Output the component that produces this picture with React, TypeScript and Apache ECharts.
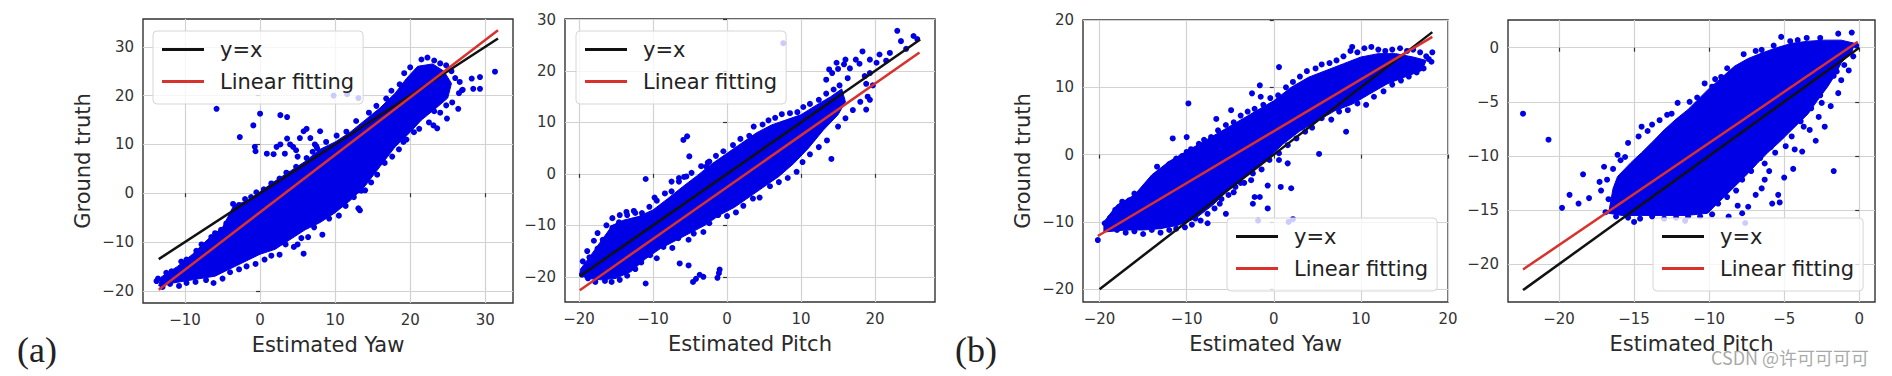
import React, { useEffect, useRef } from 'react';
import * as echarts from 'echarts';

const BLUE = '#0000e6';
const RED = '#d8322c';
const BLACK = '#111111';

// ---------- Panel (a) left: Estimated Yaw ----------
const aYawTicksX = [-10, 0, 10, 20, 30];
const aYawTicksY = [-20, -10, 0, 10, 20, 30];
const aYawIdentity = [[-13.5, -13.5], [31.7, 31.7]];
const aYawFit = [[-13.5, -19.8], [31.7, 33.4]];
const aYawDense = [
  [-13.2, -17.2], [-11, -15], [-9, -12.5], [-7, -9.5], [-5, -7], [-3.5, -2.5], [-1.5, -1.5], [0, 0.3], [2, 2.5], [4, 4.5],
  [6, 6.5], [8, 9], [10, 10.5], [12, 12.5], [14, 15], [16, 17.5], [18, 20.5], [19.5, 23.5], [21, 26], [23, 26.5], [24.5, 25],
  [25.5, 22.5], [25, 19.5], [23.5, 17.5], [21.5, 15], [20, 12.5], [18, 9.5], [16, 5.5], [14, 1.5], [12, -1.5], [10, -4],
  [8, -6], [6, -7.5], [4, -9.5], [2, -11.5], [0, -12.5], [-2, -14], [-4, -15.5], [-6, -17], [-8, -17.5], [-10, -18],
  [-12, -18.5], [-13.5, -19]
];
const aYawPoints = [
  [-13.6, -17.5], [-12.5, -16.3], [-11.8, -16], [-10.5, -14], [-9.8, -13.6], [-8.5, -11.8], [-7.8, -10.5], [-6.5, -9], [-6, -8.2],
  [-5.2, -7.5], [-4.5, -6.2], [-3.6, -2.2], [-2.8, -2.4], [-2, -1.2], [-1.2, -0.8], [-0.5, 0.2], [0.5, 0.8], [1.5, 2], [2.6, 3],
  [3.5, 4.2], [4.8, 5.4], [6.2, 7.2], [7.5, 9.6], [8.8, 10.5], [10.2, 11.8], [11.5, 12.6], [12.8, 14.8], [14.5, 16.5], [15.5, 17.9],
  [16.8, 19.4], [17.5, 21], [18.6, 22.3], [19.2, 24.6], [20, 25.8], [21.5, 27.4], [22.3, 27.8], [23.2, 27.2], [24, 26.6], [24.8, 26.2],
  [25.5, 25], [26, 23.6], [26.6, 22.8], [27, 21.2], [26.5, 20.5],
  [25.6, 18.6], [24.8, 18], [24, 16.5], [23.2, 16.8], [22.5, 14.5], [21.2, 13.2], [20.5, 12.5], [19.5, 11], [18.5, 9], [17.6, 7.5],
  [16.6, 6.2], [15.6, 3.8], [14.8, 2.2], [13.5, 0.5], [12.5, -0.8], [11.4, -2.6], [10.5, -4.6], [9.2, -5.2], [8.3, -8.5], [7.2, -7],
  [6.4, -9], [5.5, -9.2], [4.5, -11], [3.4, -10.5], [2.6, -12.6], [1.5, -12.8], [0.6, -13.6], [-0.6, -14.5], [-1.8, -15], [-2.8, -15.6],
  [-4, -16.2], [-5, -17.5], [-6.2, -18.4], [-7.2, -17.8], [-8.6, -18.2], [-9.8, -18.4], [-10.8, -19], [-12, -18.6], [-13, -19.2], [-13.8, -18],
  [-5.8, 17.3], [0, 16.3], [-2.7, 11.5], [-0.9, 13.9], [0.9, 8.1], [-0.7, 9.5], [-0.6, 8.6], [2.7, 16], [3.6, 15.6], [3.3, 8.1],
  [4.4, 9.5], [5.8, -12.4], [5, -10.5], [13.1, 0.6], [13.1, -3.1], [13.3, -3.5], [14, 0.6], [31.3, 24.9], [28.2, 23.5], [29.3, 23.8],
  [28.4, 21.4], [29.3, 21.4], [26.4, 17.3], [24.9, 15.3], [23.6, 13.3], [23.1, 13.9], [19.1, 10.5], [26.9, 21.1], [9.8, 20], [11.6, 20.3],
  [13.1, 19.5], [2.7, 10], [4, 10], [5.3, 11.3], [5.8, 12.7], [6.7, 11.3], [7.3, 10], [8, 12.7], [7.6, 9.2], [5, 7.5],
  [2.2, 9.5], [1.8, 8], [3.6, 11.2], [6.2, 13.2], [7, 8.5], [4.8, 8.8]
];

// ---------- Panel (a) right: Estimated Pitch ----------
const aPitchTicksX = [-20, -10, 0, 10, 20];
const aPitchTicksY = [-20, -10, 0, 10, 20, 30];
const aPitchIdentity = [[-19.9, -19.9], [26.1, 26.1]];
const aPitchFit = [[-19.9, -22.6], [26, 23.6]];
const aPitchDense = [
  [-19.8, -18.5], [-18.5, -16], [-17, -13], [-15.5, -10], [-14, -9], [-12, -8.3], [-10, -7], [-8, -4.8], [-6, -2.5], [-4, -0.3],
  [-2, 2], [0, 4], [2, 6], [4, 8], [6, 9.5], [8, 10.5], [10, 11.5], [12, 13.3], [14, 15], [15.5, 16.5],
  [16, 14], [15, 11.5], [13, 8.5], [11, 5], [9, 2], [7, -0.5], [5, -2.5], [3, -4.5], [1, -6.5], [-1, -8],
  [-3, -10], [-5, -11.5], [-7, -13], [-9, -14.5], [-11, -16.5], [-13, -19], [-15, -20.3], [-17, -20.6], [-19, -20.3], [-19.9, -19.5]
];
const aPitchPoints = [
  [-19.5, -17], [-18.6, -16.2], [-17.5, -14.5], [-16.8, -12.8], [-15.5, -10.5], [-14.6, -9.4], [-13.5, -8], [-12.6, -7.2], [-11.5, -7.6],
  [-10.5, -6.4], [-9.5, -5.2], [-8.4, -3.8], [-7.5, -3.4], [-6.5, -1.5], [-5.8, -0.6], [-4.8, 0.2], [-3.5, 1.5], [-2.6, 2.2], [-1.5, 3.5],
  [-0.5, 4.4], [0.8, 5.6], [1.8, 6.8], [3, 7.4], [3.6, 9.2], [4.8, 9.6], [5.6, 10.4], [6.5, 10.9], [7.4, 11.6], [8.5, 11.8], [9.5, 12],
  [10.3, 13], [11.2, 13.6], [12.4, 14.4], [13.4, 15.6], [14.4, 16.4], [15.2, 17.2], [16.3, 18.6],
  [13.4, 18.3], [14.2, 19.6], [15, 20.4], [15.8, 21.3], [16.6, 20.5], [17.4, 22.2], [17.9, 21.4], [16, 22.2], [14.8, 21.6], [13.8, 20.3],
  [18.6, 19], [19.3, 19.6], [19.7, 17.2], [18.8, 17.5], [23, 27.8], [23.5, 25.8], [25.2, 26.8], [25.7, 26.2], [24.2, 24.3], [20.6, 23.2],
  [22, 23.5], [19.3, 22.2], [21.5, 22], [20.2, 21.6], [18.3, 23.8], [19.3, 14.4], [18.8, 12.5],
  [19, 15], [18, 14], [17, 12.4], [16, 10.8], [15, 9.2], [14.1, 2.9], [13.5, 6.5], [12.4, 5.2], [11.2, 3.8], [10.2, 2.3], [9.4, 0.4],
  [8.2, -0.8], [7, -1.6], [5.8, -2.4], [4.4, -4.6], [3.5, -4.8], [2.2, -6.2], [1.2, -7.5], [0, -8.2], [-1.2, -8], [-2.4, -9.6],
  [-3.2, -11.3], [-4.5, -11.6], [-5.2, -12.8], [-6.6, -12.5], [-7.4, -14.4], [-8.6, -14.2], [-9.5, -16.4], [-10.4, -15.8], [-11.6, -17.2],
  [-12.4, -18.5], [-13.5, -19.8], [-14.5, -20.6], [-15.6, -21], [-16.5, -20.8], [-17.8, -21], [-18.8, -20.3], [-19.6, -19.6], [-11, -21.3],
  [-6.4, -17.4], [-5.2, -17.8], [-4.6, -21], [-4.2, -20.4], [-3.7, -19.6], [-3.2, -20], [-1.1, -19.3], [-1, -18.6], [-1.3, -20.2],
  [-11, -1], [-7.5, -1.5], [-6.5, -0.8], [-5.5, -0.5], [-5.9, 6.6], [-5.4, 7.3], [-5.1, 3.4], [-9.8, -4.6], [-2.4, 2.4], [-2.8, 1.4],
  [7.6, 25.4], [-15.5, -8.6], [-14.5, -8], [-13.6, -7.4], [-12.4, -7.6], [-16.3, -10], [-17.5, -11.5], [-18, -13], [-18.9, -15]
];

// ---------- Panel (b) left: Estimated Yaw ----------
const bYawTicksX = [-20, -10, 0, 10, 20];
const bYawTicksY = [-20, -10, 0, 10, 20];
const bYawIdentity = [[-20, -20], [18.2, 18.2]];
const bYawFit = [[-20.2, -12.1], [18.2, 17.5]];
const bYawDense = [
  [-19.5, -10], [-18, -7.5], [-16, -6], [-14, -3], [-12, -1], [-10, 0.5], [-8, 2], [-6, 3.5], [-4, 5], [-2, 6.5],
  [0, 8], [2, 10], [4, 11.5], [6, 12.5], [8, 13.5], [10, 14.5], [12, 15], [14, 15], [16, 14.5], [17.5, 14],
  [17, 12.5], [15, 11.5], [13, 10.5], [11, 9], [9, 7.5], [7, 6.5], [5, 5], [3, 3.5], [1, 1.5], [-1, -1],
  [-3, -3], [-5, -5], [-7, -7.5], [-9, -9.5], [-11, -10.5], [-13, -11], [-15, -11.2], [-17, -11.2], [-19.5, -11.5]
];
const bYawPoints = [
  [-20.2, -12.7], [-19.4, -10.2], [-18.8, -9.4], [-18.2, -8.2], [-17.4, -7], [-16.6, -6.8], [-16, -5.8], [-15, -5.5], [-14.2, -4.4],
  [-13.4, -1.8], [-12.8, -2.6], [-12, -1.4], [-11.2, -0.6], [-10.5, -0.2], [-9.5, 0.8], [-8.6, 1.6], [-8, 2.2], [-7.2, 2.6], [-6.4, 3.6],
  [-5.5, 4.4], [-4.6, 4.8], [-3.8, 5.8], [-3, 6.4], [-2.2, 6.8], [-1.2, 7.4], [-0.4, 8.4], [0.5, 8.8], [1.4, 10], [2.2, 10.8], [3, 11.6],
  [3.8, 12.4], [4.8, 12.8], [5.5, 13.4], [6.4, 13.6], [7.2, 14], [8, 14.6], [8.8, 15.4], [9.6, 15.2], [10.4, 15.8], [11.2, 16], [12, 15.6],
  [12.8, 15.4], [13.6, 15.6], [14.5, 15.8], [15.3, 15.4], [16, 15.6], [16.8, 15.2], [17.5, 14.6], [18.2, 15.2], [18.1, 13.8], [17.8, 14.2],
  [17.2, 12.8], [16.4, 12.2], [15.5, 11.6], [14.6, 11], [13.6, 10.4], [12.6, 9.4], [11.5, 8.6], [10.6, 7.4], [9.6, 7.6], [8.5, 6.6],
  [7.5, 6.4], [6.6, 5.2], [5.5, 5.4], [4.4, 4], [3.6, 3.4], [2.6, 2.4], [1.6, 1.4], [0.6, 0.2], [-0.5, -0.8], [-1.4, -2.2], [-2.4, -2.8],
  [-3.4, -4.2], [-4.4, -4.8], [-5.2, -6], [-6, -6.6], [-6.8, -8], [-7.6, -8.8], [-8.4, -9.8], [-9.4, -10.4], [-10.2, -10.8], [-11.2, -11],
  [-12, -11.2], [-13, -11.6], [-14, -11.2], [-15, -11.8], [-16, -11.4], [-17, -11.6], [-18, -11.2], [-19, -10.8],
  [-9.8, 7.6], [-11.6, 2.4], [-10, 2.6], [-10, 0.4], [-6.6, 5.3], [-4.9, 6.6], [-2.5, 9.1], [-1.6, 10.3], [-1.5, 8.6], [0.6, 13],
  [5.2, 0.1], [8.3, 3.4], [9, 16], [0.6, -0.8], [1.6, -1.3], [2, -5], [0.8, -4.8], [-0.7, -4.6], [-1.6, -6.3], [-0.7, -8],
  [-2.2, -6.3], [-2.4, -7.3], [-2.6, -3.8], [-6.2, -7.3], [-5.5, -8.8], [-7.6, -10.2], [-7.4, -6], [-1.8, -9.8], [1.7, -10], [2.2, -9.6],
  [-9, -9.5], [-4.6, -5.6], [-3.8, -4.2]
];

// ---------- Panel (b) right: Estimated Pitch ----------
const bPitchTicksX = [-20, -15, -10, -5, 0];
const bPitchTicksY = [-20, -15, -10, -5, 0];
const bPitchIdentity = [[-22.4, -22.4], [0, 0]];
const bPitchFit = [[-22.4, -20.5], [-0.1, 0.55]];
const bPitchDense = [
  [-16.7, -15.3], [-16.4, -13], [-16.1, -11.9], [-15.2, -10.6], [-14.5, -9.7], [-13.7, -8.6], [-13, -7.6], [-12.2, -6.6],
  [-11.4, -5.7], [-10.1, -3.9], [-9.2, -2.8], [-8.3, -1.7], [-7.4, -1], [-6.5, -0.5], [-5.5, 0], [-4.5, 0.4], [-3.4, 0.6],
  [-2.3, 0.7], [-1.2, 0.7], [-0.3, 0.4], [-0.5, -0.4], [-1.2, -1.4], [-1.6, -2.5], [-2.1, -3.6], [-2.8, -4.9], [-3.4, -6.1],
  [-4.5, -7.6], [-5.3, -8.7], [-6.1, -9.7], [-6.8, -10.7], [-7.4, -11.6], [-8.2, -12.7], [-9, -13.8], [-9.6, -14.6],
  [-10.1, -15.3], [-11.5, -15.5], [-13, -15.5], [-14.5, -15.5], [-15.8, -15.5]
];
const bPitchPoints = [
  [-22.4, -6.1], [-20.7, -8.5], [-19.8, -14.8], [-19.3, -13.6], [-18.7, -14.4], [-18.4, -11.7], [-18, -13.9], [-17.3, -12.4],
  [-17, -11], [-16.8, -12.2], [-16.7, -14], [-16.1, -9.9], [-15.6, -10.1], [-15, -16.1], [-14.7, -8.2], [-14.5, -7.3], [-14.1, -7.7],
  [-13.3, -6.7], [-12.5, -6.1], [-12.1, -5.1], [-11.6, -16], [-11.3, -5], [-11, -5.7], [-10.3, -3.3], [-9.6, -2.9], [-9.2, -2.7],
  [-8.8, -1.9], [-8.7, -15.6], [-7.8, -15.3], [-7.8, -2.1], [-7.6, -16.2], [-7.4, -14.7], [-7.2, -1.4], [-7.1, -10.7], [-6.5, -0.2],
  [-6.5, -13], [-6.3, -12.2], [-6.3, -10.7], [-5.8, -14.4], [-5.6, -9.7], [-5.4, -13.6], [-5.3, -14.3], [-5.2, 1], [-4.9, -9.1],
  [-4.3, -9.4], [-4.1, 0.7], [-3.8, -9.6], [-3.7, -7.3], [-3.3, -7.6], [-2.7, -6.4], [-2.5, -5.1], [-2.3, -7.3], [-1.9, -5.4],
  [-1.7, -11.4], [-1.4, 1.3], [-1.2, -3], [-0.7, -2.1], [-0.5, 1.4], [-0.2, 0.2], [-0.4, -0.8], [-1, -1.6], [-1.5, -2.2],
  [-2.6, 0.9], [-3.5, 0.9], [-4.6, 0.6], [-5.7, 0.2], [-6.9, -0.3], [-7.7, -0.6], [-8.4, -2.6], [-9.8, -3.6], [-10.8, -4.6],
  [-12.8, -6.2], [-13.8, -7.1], [-15.4, -8.8], [-15.9, -10.4], [-16.4, -11.2], [-17.2, -13.2], [-16.9, -15.2], [-16.2, -15.6],
  [-15.4, -15.7], [-14.6, -15.8], [-13.8, -15.6], [-13, -15.8], [-12.2, -15.7], [-11.4, -15.6], [-10.6, -15.6], [-9.8, -15.4],
  [-9.4, -14.4], [-8.8, -13.8], [-8.2, -13.2], [-7.8, -12.2], [-7.2, -11.4], [-6.6, -10.2], [-5.9, -9.2], [-5.2, -8.2],
  [-4.5, -8.2], [-3.9, -6.8], [-3.2, -5.6], [-2.6, -4.4], [-2.2, -3.2], [-1.7, -2.6], [-2.9, -8.6], [-4.4, -11.2], [-5, -12],
  [-6, -11.4], [-6.9, -13.6], [-8.1, -14.6], [-1.4, -4.2], [-3.1, -3.2]
];

const tickFont = 'DejaVu Sans';
const fmt = (v: number) => (v < 0 ? '\u2212' + Math.abs(v) : String(v));

function makeAxis(grid: number, min: number, max: number, ticks: number[], name: string, nameGap: number, rotateName: boolean) {
  return {
    type: 'value',
    gridIndex: grid,
    min,
    max,
    name,
    nameLocation: 'middle',
    nameGap,
    nameRotate: rotateName ? 90 : 0,
    nameTextStyle: { fontFamily: tickFont, fontSize: 21, color: '#2a2a2a' },
    axisLine: { show: false },
    axisTick: { show: true, length: 4, customValues: ticks, lineStyle: { color: '#333', width: 1.2 } },
    axisLabel: { customValues: ticks, formatter: fmt, fontFamily: tickFont, fontSize: 15, color: '#333', margin: 9 },
    splitLine: { show: true, lineStyle: { color: '#d2d2d2', width: 1.2 } },
  };
}

function makeSeries(idx: number, dense: number[][], pts: number[][], ident: number[][], fit: number[][]) {
  return [
    {
      type: 'custom',
      xAxisIndex: idx,
      yAxisIndex: idx,
      z: 2,
      silent: true,
      data: [dense[0]],
      renderItem: (params: any, api: any) => {
        const points = dense.map((p) => api.coord(p));
        return { type: 'polygon', shape: { points }, style: { fill: BLUE, stroke: BLUE, lineWidth: 1 } };
      },
    },
    {
      type: 'scatter',
      xAxisIndex: idx,
      yAxisIndex: idx,
      z: 2,
      silent: true,
      symbol: 'circle',
      symbolSize: 6,
      itemStyle: { color: BLUE, opacity: 1 },
      data: pts,
    },
    {
      name: 'y=x',
      type: 'line',
      xAxisIndex: idx,
      yAxisIndex: idx,
      z: 3,
      silent: true,
      symbol: 'none',
      data: ident,
      lineStyle: { color: BLACK, width: 2.5 },
      itemStyle: { color: BLACK },
    },
    {
      name: 'Linear fitting',
      type: 'line',
      xAxisIndex: idx,
      yAxisIndex: idx,
      z: 3,
      silent: true,
      symbol: 'none',
      data: fit,
      lineStyle: { color: RED, width: 2.5 },
      itemStyle: { color: RED },
    },
  ];
}

function makeLegend(left: number, top: number) {
  return {
    left,
    top,
    orient: 'vertical',
    data: [
      { name: 'y=x', icon: 'rect' },
      { name: 'Linear fitting', icon: 'rect' },
    ],
    itemWidth: 42,
    itemHeight: 3,
    itemGap: 11,
    padding: [8, 9, 12, 9],
    backgroundColor: 'rgba(255,255,255,0.8)',
    borderColor: '#d6d6d6',
    borderWidth: 1,
    borderRadius: 4,
    selectedMode: false,
    textStyle: { fontFamily: tickFont, fontSize: 21, color: '#222', padding: [0, 0, 0, 11] },
  };
}

export default function App() {
  const ref = useRef<HTMLDivElement>(null);
  useEffect(() => {
    document.body.style.margin = '0';
    if (!ref.current) return;
    const chart = echarts.init(ref.current, undefined, { renderer: 'svg' });
    const option: any = {
      animation: false,
      backgroundColor: '#ffffff',
      grid: [
        { left: 143, top: 19, width: 370, height: 284, show: true, borderColor: '#333', borderWidth: 1.4, backgroundColor: 'transparent' },
        { left: 565, top: 19, width: 370, height: 283, show: true, borderColor: '#333', borderWidth: 1.4, backgroundColor: 'transparent' },
        { left: 1083, top: 20, width: 365, height: 282, show: true, borderColor: '#333', borderWidth: 1.4, backgroundColor: 'transparent' },
        { left: 1508, top: 20, width: 367, height: 282, show: true, borderColor: '#333', borderWidth: 1.4, backgroundColor: 'transparent' },
      ],
      xAxis: [
        makeAxis(0, -15.6, 33.7, aYawTicksX, 'Estimated Yaw', 31, false),
        makeAxis(1, -21.9, 28.1, aPitchTicksX, 'Estimated Pitch', 31, false),
        makeAxis(2, -21.9, 20, bYawTicksX, 'Estimated Yaw', 31, false),
        makeAxis(3, -23.4, 1.05, bPitchTicksX, 'Estimated Pitch', 31, false),
      ],
      yAxis: [
        makeAxis(0, -22.5, 35.7, aYawTicksY, 'Ground truth', 50, true),
        makeAxis(1, -24.9, 30.1, aPitchTicksY, '', 50, true),
        makeAxis(2, -21.9, 20, bYawTicksY, 'Ground truth', 50, true),
        makeAxis(3, -23.5, 2.56, bPitchTicksY, '', 50, true),
      ],
      legend: [makeLegend(153, 31), makeLegend(576, 31), makeLegend(1227, 218), makeLegend(1653, 218)],
      series: [
        ...makeSeries(0, aYawDense, aYawPoints, aYawIdentity, aYawFit),
        ...makeSeries(1, aPitchDense, aPitchPoints, aPitchIdentity, aPitchFit),
        ...makeSeries(2, bYawDense, bYawPoints, bYawIdentity, bYawFit),
        ...makeSeries(3, bPitchDense, bPitchPoints, bPitchIdentity, bPitchFit),
      ],
      graphic: [
        { type: 'text', x: 37, y: 350, style: { text: '(a)', font: '36px "Liberation Serif"', fill: '#222', textAlign: 'center', textVerticalAlign: 'middle' } },
        { type: 'text', x: 976, y: 350, style: { text: '(b)', font: '36px "Liberation Serif"', fill: '#222', textAlign: 'center', textVerticalAlign: 'middle' } },
        { type: 'text', x: 1790, y: 357, z: 10, style: { text: 'CSDN @许可可可可', font: '18px "Noto Sans CJK SC"', fill: 'rgba(140,140,140,0.75)', textAlign: 'center', textVerticalAlign: 'middle' } },
      ],
    };
    chart.setOption(option);
    return () => chart.dispose();
  }, []);
  return <div ref={ref} style={{ width: 1892, height: 376 }} />;
}
